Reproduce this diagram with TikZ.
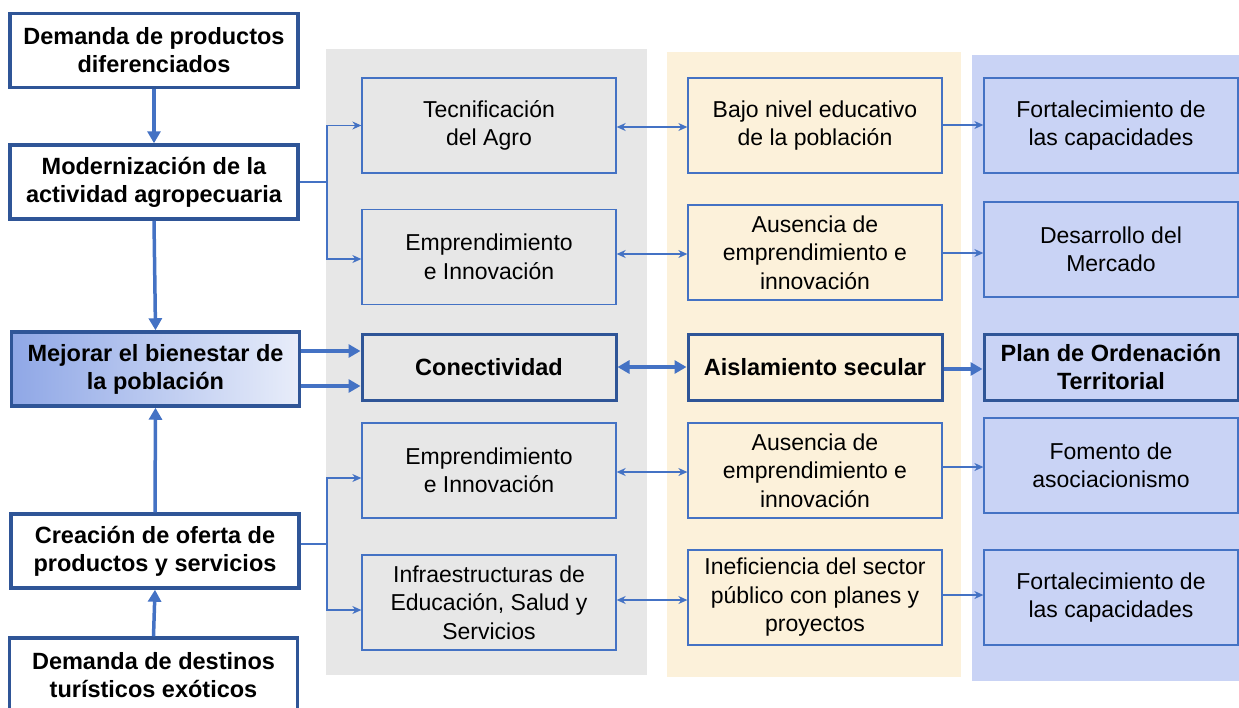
\documentclass[tikz,border=0pt]{standalone}
\usepackage{fontspec}
\setmainfont{Liberation Sans}
\usetikzlibrary{arrows.meta,calc}
\definecolor{dblue}{HTML}{2F5597}
\definecolor{mblue}{HTML}{4472C4}
\definecolor{graybg}{HTML}{E7E7E7}
\definecolor{beigebg}{HTML}{FCF1DA}
\definecolor{bluebg}{HTML}{C9D3F5}
\definecolor{gradL}{HTML}{8FA7E6}
\definecolor{gradR}{HTML}{E8EDFA}
\begin{document}
\begin{tikzpicture}[x=1pt,y=-1pt,
  lbox/.style={draw=dblue,line width=3.5pt,fill=white,minimum width=288pt,minimum height=74pt,inner sep=0pt,align=center,font=\fontsize{23.5}{28}\selectfont\bfseries},
  cbox/.style={draw=mblue,line width=1.3pt,minimum width=254pt,minimum height=95pt,inner sep=0pt,align=center,font=\fontsize{23}{28.5}\selectfont},
  kbox/.style={draw=dblue,line width=3pt,minimum width=254pt,minimum height=66pt,inner sep=0pt,align=center,font=\fontsize{23.5}{28}\selectfont\bfseries},
  tarrow/.style={draw=mblue,line width=1.2pt,-{Stealth[length=9pt,width=8pt]}},
  tdarrow/.style={draw=mblue,line width=1.2pt,{Stealth[length=9pt,width=8pt]}-{Stealth[length=9pt,width=8pt]}},
  barrow/.style={draw=mblue,line width=3.5pt,-{Triangle[length=12pt,width=13pt]}},
  bdarrow/.style={draw=mblue,line width=3.5pt,{Triangle[length=12pt,width=13pt]}-{Triangle[length=12pt,width=13pt]}},
]
\useasboundingbox (0,0) rectangle (1239,707);
% background panels
\fill[graybg] (326,49) rectangle (647,675);
\fill[beigebg] (667,52) rectangle (961,677);
\fill[bluebg] (972,55) rectangle (1245,681);

% left column
\node[lbox] (m1) at (154,50.5) {Demanda de productos\\diferenciados};
\node[lbox] (m2) at (154,182) {Modernización de la\\actividad agropecuaria};
\node[lbox,left color=gradL,right color=gradR] (m3) at (155.5,369) {Mejorar el bienestar de\\la población};
\node[lbox] (m4) at (155,551) {Creación de oferta de\\productos y servicios};
\node[lbox] (m5) at (153.5,675) {Demanda de destinos\\turísticos exóticos};

% gray column
\node[cbox] (g1) at (489,125.5) {Tecnificación\\del Agro};
\node[cbox] (g2) at (489,257) {Emprendimiento\\e Innovación};
\node[kbox] (g3) at (489,367) {Conectividad};
\node[cbox] (g4) at (489,470.5) {Emprendimiento\\e Innovación};
\node[cbox] (g5) at (489,602.5) {Infraestructuras de\\Educación, Salud y\\Servicios};

% beige column
\node[cbox] (b1) at (815,125.5) {Bajo nivel educativo\\de la población};
\node[cbox] (b2) at (815,252.5) {Ausencia de\\emprendimiento e\\innovación};
\node[kbox] (b3) at (815,367) {Aislamiento secular};
\node[cbox] (b4) at (815,470.5) {Ausencia de\\emprendimiento e\\innovación};
\node[cbox] (b5) at (815,597.5) {Ineficiencia del sector\\público con planes y\\proyectos};

% blue column
\node[cbox] (p1) at (1111,125.5) {Fortalecimiento de\\las capacidades};
\node[cbox] (p2) at (1111,249.5) {Desarrollo del\\Mercado};
\node[kbox] (p3) at (1111,367) {Plan de Ordenación\\Territorial};
\node[cbox] (p4) at (1111,465.5) {Fomento de\\asociacionismo};
\node[cbox] (p5) at (1111,597.5) {Fortalecimiento de\\las capacidades};

% vertical arrows left column
\draw[barrow] (m1.south) -- (m2.north);
\draw[barrow] (m2.south) -- (m3.north);
\draw[barrow] (m4.north) -- (m3.south);
\draw[barrow] (m5.north) -- (m4.south);

% brackets
\draw[tarrow] (m2.east) -- (327,182) |- (g1.west);
\draw[tarrow] (327,182) |- (g2.west |- 0,259);
\draw[tarrow] (m4.east |- 0,544) -- (327,544) |- (g4.west |- 0,478);
\draw[tarrow] (327,544) |- (g5.west |- 0,610);

% main row
\draw[barrow] (m3.east |- 0,351) -- (g3.west |- 0,351);
\draw[barrow] (m3.east |- 0,386) -- (g3.west |- 0,386);
\draw[bdarrow] (g3.east |- 0,367) -- (b3.west |- 0,367);
\draw[barrow] (b3.east |- 0,369) -- (p3.west |- 0,369);

% gray <-> beige
\draw[tdarrow] (g1.east |- 0,127) -- (b1.west |- 0,127);
\draw[tdarrow] (g2.east |- 0,254) -- (b2.west |- 0,254);
\draw[tdarrow] (g4.east |- 0,472) -- (b4.west |- 0,472);
\draw[tdarrow] (g5.east |- 0,600) -- (b5.west |- 0,600);

% beige -> blue
\draw[tarrow] (b1.east |- 0,125) -- (p1.west |- 0,125);
\draw[tarrow] (b2.east |- 0,253) -- (p2.west |- 0,253);
\draw[tarrow] (b4.east |- 0,467) -- (p4.west |- 0,467);
\draw[tarrow] (b5.east |- 0,595) -- (p5.west |- 0,595);
\end{tikzpicture}
\end{document}
